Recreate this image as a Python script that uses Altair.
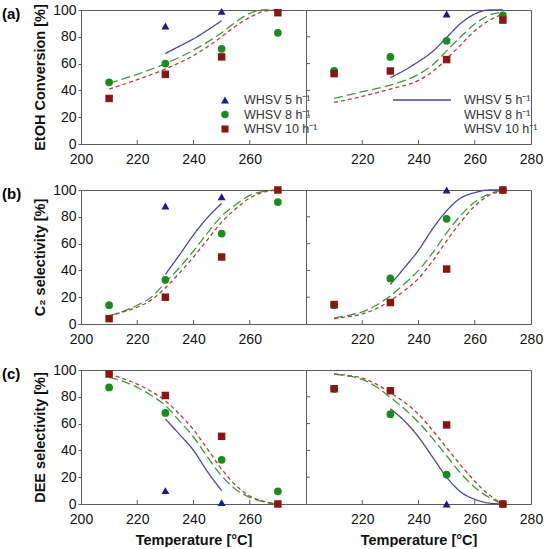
import altair as alt
import pandas as pd

FONT = "Liberation Sans"
SERIES = ["WHSV 5 h⁻¹", "WHSV 8 h⁻¹", "WHSV 10 h⁻¹"]
POINT_COLORS = ["#1c1c88", "#1d8a1d", "#8a1515"]
LINE_COLORS = ["#4646aa", "#3a9c3a", "#b83c3c"]
SHAPES = ["triangle-up", "circle", "square"]
SIZES = [64, 56, 50]
DASHES = [[1, 0], [9, 4], [4, 3]]

# reaction temperatures of the measured points [°C]
temps = [210, 230, 250, 270]

# ---- (a) EtOH conversion [%] ----
conv_l_5 = [None, 88, 99, None]
conv_l_8 = [46, 60, 71, 83]
conv_l_10 = [34, 52, 65, 98]
conv_r_5 = [None, None, 97, None]
conv_r_8 = [54.5, 65, 77, 96]
conv_r_10 = [52.5, 54.5, 63, 92.5]

conv_l_fit5_T = [230, 235, 240, 245, 250]
conv_l_fit5 = [67.5, 73, 78.5, 85, 92]
conv_l_fit_T = [210, 220, 230, 240, 250, 255, 260, 265, 270]
conv_l_fit8 = [45.5, 52, 60, 70, 83, 91, 97.5, 100, 100]
conv_l_fit10 = [41, 48, 56, 66, 80, 88, 94.5, 99, 100]

conv_r_fit5_T = [230, 235, 240, 245, 250, 255, 260, 265, 270]
conv_r_fit5 = [49.5, 55, 61.5, 69, 79.5, 90, 97, 100, 100]
conv_r_fit_T = [210, 220, 230, 240, 245, 250, 255, 260, 265, 270]
conv_r_fit8 = [34, 39, 44, 52, 59, 69.5, 80, 89.5, 96, 98.5]
conv_r_fit10 = [31, 35.5, 41, 47.5, 54, 63.5, 74, 84.5, 92, 97]

# ---- (b) C2 selectivity [%] ----
c2_l_5 = [None, 88, 95, None]
c2_l_8 = [14, 33, 67.5, 91]
c2_l_10 = [4, 20, 50, 100]
c2_r_5 = [None, None, 100, None]
c2_r_8 = [14, 34, 78.5, 100]
c2_r_10 = [14.5, 16, 41, 100]

c2_l_fit5_T = [230, 235, 240, 245, 250]
c2_l_fit5 = [37, 51.5, 66.5, 79.5, 90]
c2_fit_T = [210, 215, 220, 225, 230, 235, 240, 245, 250, 255, 260, 265, 270]
c2_l_fit8 = [6, 9.5, 14, 20, 31, 42, 54.5, 68, 80.5, 89, 96, 99, 100]
c2_l_fit10 = [6, 9, 12.5, 18, 27, 38, 50, 63, 76, 86, 94, 98.5, 100]

c2_r_fit5_T = [230, 235, 240, 245, 250, 255, 260, 265, 270]
c2_r_fit5 = [29.5, 42, 55, 71, 84.5, 94, 98, 100, 100]
c2_r_fit8 = [4.5, 6.5, 9, 14, 21, 30, 40, 53, 68, 81, 91, 97, 100]
c2_r_fit10 = [4, 5.5, 7.5, 11.5, 17.5, 25, 34, 47, 62, 76, 88, 96, 99]

# ---- (c) DEE selectivity [%] ----
dee_l_5 = [None, 10, 1, None]
dee_l_8 = [87, 68, 33, 9.5]
dee_l_10 = [97, 81, 50.5, 0]
dee_r_5 = [None, None, 0, None]
dee_r_8 = [86, 67, 22, 0]
dee_r_10 = [86, 84.5, 59, 0]

dee_l_fit5_T = [230, 235, 240, 245, 250]
dee_l_fit5 = [63.5, 52, 40, 24, 10]
dee_fit_T = [210, 215, 220, 225, 230, 235, 240, 245, 250, 255, 260, 265, 270]
dee_l_fit8 = [94.5, 91.5, 87, 81, 73.5, 62, 50, 35, 21, 11, 5, 1.5, 0]
dee_l_fit10 = [97, 93.5, 89.5, 84, 77, 67, 55.5, 41, 26, 14, 6, 2, 0]

dee_r_fit5_T = [230, 235, 240, 245, 250, 255, 260, 265, 270]
dee_r_fit5 = [71, 62, 50, 35, 20, 9, 3.5, 0.7, 0]
dee_r_fit8 = [97, 95.5, 93, 87.5, 79.5, 71, 61, 49, 36, 23, 12.5, 5, 0]
dee_r_fit10 = [97, 96, 94, 89.5, 83, 76, 67, 55, 42, 29, 17, 7, 0]

x_ticks_inner = [220, 240, 260]
y_ticks = [0, 20, 40, 60, 80, 100]
y_ticks_inner = [20, 40, 60, 80]
x_labels_left = [200, 220, 240, 260]
x_labels_right = [220, 240, 260, 280]

W, H = 225, 134
FRAME = "#5a5a5a"


def points_frame(series_vals):
    rows = []
    for name, vals in zip(SERIES, series_vals):
        for t, v in zip(temps, vals):
            if v is not None:
                rows.append({"series": name, "T": t, "v": v})
    return pd.DataFrame(rows)


def lines_frame(series_lines):
    rows = []
    for name, (ts, vs) in zip(SERIES, series_lines):
        for i, (t, v) in enumerate(zip(ts, vs)):
            rows.append({"series": name, "T": t, "v": v, "i": i})
    return pd.DataFrame(rows)


def panel(pts, lines, side, label=None, ytitle=None, xtitle=None, legend=None):
    x_kw = dict(values=x_labels_left if side == "left" else x_labels_right,
                ticks=False, domain=False, grid=False, labelPadding=8,
                labelFlush=False, labelOverlap=False)
    if xtitle:
        x_kw.update(title=xtitle, titlePadding=7)
    else:
        x_kw.update(title="")
    x_enc = alt.X("T:Q", scale=alt.Scale(domain=[200, 280], nice=False, zero=False),
                  axis=alt.Axis(**x_kw))
    if side == "left":
        y_enc = alt.Y("v:Q", scale=alt.Scale(domain=[0, 100], nice=False),
                      axis=alt.Axis(values=y_ticks, tickSize=3, tickColor=FRAME,
                                    domain=False, grid=False, labelPadding=2,
                                    title=ytitle, titlePadding=5))
    else:
        y_enc = alt.Y("v:Q", scale=alt.Scale(domain=[0, 100], nice=False), axis=None)

    # fitted curves: stroke channel only
    line_layer = alt.Chart(lines_frame(lines)).mark_line(
        interpolate="monotone", strokeWidth=1.3
    ).encode(
        x=x_enc, y=y_enc,
        stroke=alt.Stroke("series:N", scale=alt.Scale(domain=SERIES, range=LINE_COLORS), legend=None),
        strokeDash=alt.StrokeDash("series:N", scale=alt.Scale(domain=SERIES, range=DASHES), legend=None),
        order="i:Q",
    )
    # measured points: fill channel only
    point_layer = alt.Chart(points_frame(pts)).mark_point(
        filled=True, opacity=1, strokeWidth=0
    ).encode(
        x=x_enc, y=y_enc,
        shape=alt.Shape("series:N", scale=alt.Scale(domain=SERIES, range=SHAPES), legend=None),
        fill=alt.Fill("series:N", scale=alt.Scale(domain=SERIES, range=POINT_COLORS), legend=None),
        size=alt.Size("series:N", scale=alt.Scale(domain=SERIES, range=SIZES), legend=None),
    )
    xt = alt.Chart(pd.DataFrame({"T": x_ticks_inner})).mark_rule(color=FRAME).encode(
        x="T:Q", y=alt.value(H), y2=alt.value(H - 4))
    layers = [line_layer, point_layer, xt]
    if side == "right":
        yt = alt.Chart(pd.DataFrame({"v": y_ticks_inner})).mark_rule(color=FRAME).encode(
            y="v:Q", x=alt.value(0), x2=alt.value(4))
        layers.append(yt)
    if label:
        layers.append(
            alt.Chart(pd.DataFrame({"lbl": [label]})).mark_text(
                font=FONT, fontSize=15, fontWeight="bold", align="left", baseline="middle"
            ).encode(text="lbl:N", x=alt.value(-79), y=alt.value(4))
        )
    if legend == "markers":
        for k, name in enumerate(SERIES):
            yy = 90 + 14.5 * k
            one = pd.DataFrame({"series": [name]})
            layers.append(alt.Chart(one).mark_point(
                filled=True, opacity=1, strokeWidth=0, shape=SHAPES[k],
                fill=POINT_COLORS[k], size=SIZES[k]
            ).encode(x=alt.value(144), y=alt.value(yy)))
            layers.append(alt.Chart(one).mark_text(
                font=FONT, fontSize=12.5, color="#333333", align="left", baseline="middle"
            ).encode(text="series:N", x=alt.value(163), y=alt.value(yy)))
    if legend == "lines":
        layers.append(alt.Chart(pd.DataFrame({"series": [SERIES[0]]})).mark_rule(
            color=LINE_COLORS[0], strokeWidth=1.3
        ).encode(x=alt.value(87), x2=alt.value(145), y=alt.value(90)))
        for k, name in enumerate(SERIES):
            yy = 90 + 14.5 * k
            layers.append(alt.Chart(pd.DataFrame({"series": [name]})).mark_text(
                font=FONT, fontSize=12.5, color="#333333", align="left", baseline="middle"
            ).encode(text="series:N", x=alt.value(158), y=alt.value(yy)))
    return alt.layer(*layers).properties(width=W, height=H)


a_left = panel([conv_l_5, conv_l_8, conv_l_10],
               [(conv_l_fit5_T, conv_l_fit5), (conv_l_fit_T, conv_l_fit8), (conv_l_fit_T, conv_l_fit10)],
               "left", label="(a)", ytitle="EtOH Conversion [%]", legend="markers")
a_right = panel([conv_r_5, conv_r_8, conv_r_10],
                [(conv_r_fit5_T, conv_r_fit5), (conv_r_fit_T, conv_r_fit8), (conv_r_fit_T, conv_r_fit10)],
                "right", legend="lines")
b_left = panel([c2_l_5, c2_l_8, c2_l_10],
               [(c2_l_fit5_T, c2_l_fit5), (c2_fit_T, c2_l_fit8), (c2_fit_T, c2_l_fit10)],
               "left", label="(b)", ytitle="C₂ selectivity [%]")
b_right = panel([c2_r_5, c2_r_8, c2_r_10],
                [(c2_r_fit5_T, c2_r_fit5), (c2_fit_T, c2_r_fit8), (c2_fit_T, c2_r_fit10)],
                "right")
c_left = panel([dee_l_5, dee_l_8, dee_l_10],
               [(dee_l_fit5_T, dee_l_fit5), (dee_fit_T, dee_l_fit8), (dee_fit_T, dee_l_fit10)],
               "left", label="(c)", ytitle="DEE selectivity [%]", xtitle="Temperature [°C]")
c_right = panel([dee_r_5, dee_r_8, dee_r_10],
                [(dee_r_fit5_T, dee_r_fit5), (dee_fit_T, dee_r_fit8), (dee_fit_T, dee_r_fit10)],
                "right", xtitle="Temperature [°C]")

chart = alt.concat(
    a_left, a_right, b_left, b_right, c_left, c_right,
    columns=2, spacing={"row": 46, "column": 0}, bounds="flush",
).properties(
    padding={"left": 1, "top": 2, "right": 0, "bottom": 0}
).configure_view(
    stroke=FRAME, strokeWidth=1
).configure_axis(
    labelFont=FONT, titleFont=FONT, labelFontSize=14, titleFontSize=14.5,
    titleFontWeight="bold", labelColor="#111111", titleColor="#111111"
)

chart.save("out.html", embed_options={"renderer": "svg", "actions": False})
